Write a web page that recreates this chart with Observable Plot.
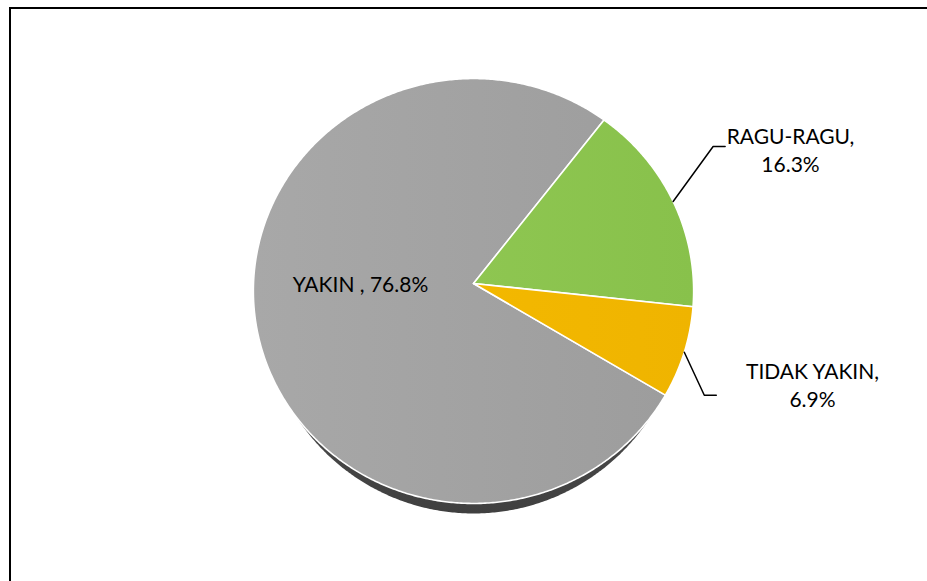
<!DOCTYPE html>
<html><head><meta charset="utf-8">
<script src="https://cdn.jsdelivr.net/npm/d3@7"></script>
<script src="https://cdn.jsdelivr.net/npm/@observablehq/plot@0.6"></script>
<style>
body{margin:0;background:#fff;}
#wrap{position:relative;width:927px;height:581px;overflow:hidden;}
#frame{position:absolute;left:9px;top:7px;width:940px;height:600px;border-left:2px solid #000;border-top:2px solid #000;}
#chart{position:absolute;left:0;top:0;}
</style>
</head><body><div id="wrap"><div id="chart"></div><div id="frame"></div></div>
<script>
// ---- data ----
const categories = ["YAKIN", "RAGU-RAGU", "TIDAK YAKIN"];
const values = [76.8, 16.3, 6.9];
const labelNames = ["YAKIN ,", "RAGU-RAGU,", "TIDAK YAKIN,"];
const labelValues = ["76.8%", "16.3%", "6.9%"];

// ---- layout / style ----
const W = 927, H = 581, CX = 473, CY = 283, RX = 220, RY = 212.2, B = 0.0353;
const fills = ["url(#gGray)", "url(#gGreen)", "url(#gYellow)"];
const startAngle = 121.1 * Math.PI / 180;
const pie = d3.pie().sort(null).value(d => d).startAngle(startAngle).endAngle(startAngle + 2 * Math.PI);
const arcs = pie(values);

// projection of unit disk (slight perspective tilt) into radius units
function proj(theta, r = 1) {
  const ux = r * Math.sin(theta), uy = r * Math.cos(theta);
  const w = 1 + B * uy;
  return [ux / w, (uy / w) * (RY / RX)];
}

const slices = [];
arcs.forEach((a, i) => {
  const n = Math.max(8, Math.ceil((a.endAngle - a.startAngle) / (Math.PI / 360)));
  slices.push({cat: categories[i], x: 0, y: 0, k: 0});
  for (let j = 0; j <= n; j++) {
    const t = a.startAngle + (a.endAngle - a.startAngle) * j / n;
    const [x, y] = proj(t);
    slices.push({cat: categories[i], x, y, k: j + 1});
  }
});

const shadowDy = -10 / RX, shadowSx = 0.96;
const shadow = d3.range(0, 721).map(j => {
  const [x, y] = proj(j * Math.PI / 360);
  return {x: x * shadowSx, y: y + shadowDy};
});

// label placement (radius units relative to pie centre)
const labelPos = {
  "YAKIN": {x: (360 - CX) / RX, y: (CY - 291.7) / RX, single: true},
  "RAGU-RAGU": {x: (790 - CX) / RX, y: (CY - 171.7) / RX},
  "TIDAK YAKIN": {x: (812 - CX) / RX, y: (CY - 406.7) / RX}
};
const labels = categories.map((c, i) => ({
  cat: c,
  text: labelPos[c].single ? `${labelNames[i]} ${labelValues[i]}` : `${labelNames[i]}\n${labelValues[i]}`,
  x: labelPos[c].x, y: labelPos[c].y
}));

// leader lines from slice mid-angle
const leaderShape = {
  "RAGU-RAGU": [[40, -55], [12, 0]],
  "TIDAK YAKIN": [[20, 43], [12, 0]]
};
const leaders = [];
arcs.forEach((a, i) => {
  const c = categories[i];
  if (!leaderShape[c]) return;
  const mid = (a.startAngle + a.endAngle) / 2;
  let [x, y] = proj(mid, 1.0);
  leaders.push({cat: c, x, y});
  for (const [dx, dy] of leaderShape[c]) {
    x += dx / RX; y -= dy / RX;
    leaders.push({cat: c, x, y});
  }
});

const plot = Plot.plot({
  width: W, height: H,
  margin: 0,
  x: {domain: [-CX / RX, (W - CX) / RX], range: [0, W], axis: null},
  y: {domain: [-(H - CY) / RX, CY / RX], range: [H, 0], axis: null},
  style: {background: "transparent"},
  marks: [
    Plot.line(shadow, {x: "x", y: "y", fill: "url(#gShadow)", stroke: "none", curve: "linear-closed"}),
    ...categories.map((c, i) => Plot.line(slices.filter(d => d.cat === c), {
      x: "x", y: "y", fill: fills[i], stroke: "#ffffff", strokeWidth: 1.6, strokeLinejoin: "round", curve: "linear-closed"
    })),
    Plot.line(leaders, {x: "x", y: "y", z: "cat", stroke: "#000", strokeWidth: 1.5}),
    Plot.text(labels, {
      x: "x", y: "y", text: "text", lineAnchor: "bottom", textAnchor: "middle",
      fontFamily: "Lato, 'Open Sans', sans-serif", fontSize: 21, lineHeight: 28.3 / 21, fill: "#000"
    })
  ]
});

const svg = d3.select(plot);
const defs = svg.insert("defs", ":first-child");
function grad(id, c0, c1, vertical) {
  const g = defs.append("linearGradient").attr("id", id).attr("x1", "0").attr("y1", "0")
    .attr("x2", vertical ? "0" : "1").attr("y2", vertical ? "1" : "0");
  g.append("stop").attr("offset", "0").attr("stop-color", c0);
  g.append("stop").attr("offset", "1").attr("stop-color", c1);
}
grad("gGray", "#a8a8a8", "#9d9d9d");
grad("gGreen", "#8ec651", "#88c14b");
grad("gYellow", "#f3b800", "#efb400");
grad("gShadow", "#6a6a6a", "#404040", true);
document.getElementById("chart").appendChild(plot);
</script>
</body></html>
